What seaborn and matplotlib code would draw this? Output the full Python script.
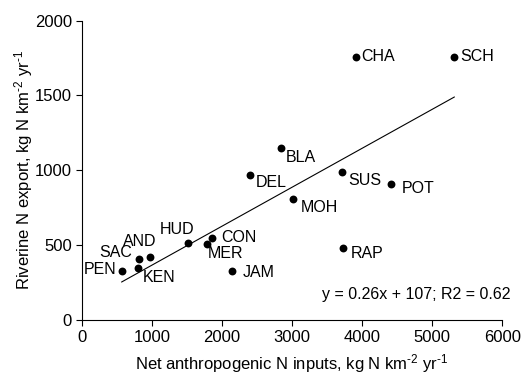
import matplotlib
matplotlib.use("Agg")
import matplotlib.pyplot as plt
import seaborn as sns
import pandas as pd

# river basins: net anthropogenic N inputs vs riverine N export
rivers = ["PEN", "SAC", "AND", "KEN", "HUD", "MER", "CON", "JAM", "DEL", "BLA",
          "MOH", "SUS", "RAP", "POT", "CHA", "SCH"]
n_inputs = [567, 819, 971, 805, 1519, 1781, 1852, 2143, 2400, 2838,
            3019, 3719, 3733, 4414, 3910, 5319]
n_export = [329, 405, 422, 349, 515, 507, 551, 329, 967, 1149,
            807, 989, 482, 907, 1760, 1760]

slope = 0.26
intercept = 107
r2 = 0.62

# label offsets in points (dx, dy, ha)
label_pos = {
    "PEN": (-4, 1, "right"), "SAC": (-5, 5, "right"), "AND": (-7, 11, "center"),
    "KEN": (3, -7, "left"), "HUD": (-8, 10, "center"), "MER": (1, -7, "left"),
    "CON": (7, 0, "left"), "JAM": (8, -1, "left"), "DEL": (4, -5, "left"),
    "BLA": (4, -7, "left"), "MOH": (5, -6, "left"), "SUS": (4, -6, "left"),
    "RAP": (5, -4, "left"), "POT": (8, -3, "left"), "CHA": (4, 0, "left"),
    "SCH": (4, 0, "left"),
}

df = pd.DataFrame({"river": rivers, "x": n_inputs, "y": n_export})

sns.set_style("ticks", {"axes.edgecolor": "black", "xtick.color": "black",
                        "ytick.color": "black", "text.color": "black",
                        "axes.labelcolor": "black"})
plt.rcParams["font.family"] = ["Liberation Sans", "DejaVu Sans"]
plt.rcParams["mathtext.fontset"] = "custom"
plt.rcParams["mathtext.rm"] = "Liberation Sans"
plt.rcParams["mathtext.default"] = "rm"

fig = plt.figure(figsize=(5.28, 3.74), dpi=100)
ax = fig.add_axes([0.155, 0.144, 0.796, 0.801])

sns.scatterplot(data=df, x="x", y="y", color="black", s=32, edgecolor="black",
                linewidth=0, ax=ax, zorder=3)

xs = [min(n_inputs), max(n_inputs)]
line = pd.DataFrame({"x": xs, "y": [slope * v + intercept for v in xs]})
sns.lineplot(data=line, x="x", y="y", color="black", linewidth=0.8, ax=ax)

for r, xv, yv in zip(rivers, n_inputs, n_export):
    dx, dy, ha = label_pos[r]
    ax.annotate(r, (xv, yv), xytext=(dx, dy), textcoords="offset points",
                ha=ha, va="center", fontsize=11.5)

ax.text(1.02, 0.084, f"y = {slope}x + {intercept}; R2 = {r2}", transform=ax.transAxes,
        ha="right", va="center", fontsize=11.5)

ax.set_xlim(0, 6000)
ax.set_ylim(0, 2000)
ax.set_xticks(range(0, 6001, 1000))
ax.set_yticks(range(0, 2001, 500))
ax.tick_params(labelsize=12, length=4, width=0.8, direction="out", pad=3)
for s in ["left", "bottom"]:
    ax.spines[s].set_linewidth(0.8)
sns.despine(ax=ax)

ax.set_xlabel("Net anthropogenic N inputs, kg N km$^{\u2010 2}$ yr$^{\u2010 1}$", fontsize=12, labelpad=5)
ax.set_ylabel("Riverine N export, kg N km$^{\u2010 2}$ yr$^{\u2010 1}$", fontsize=12, labelpad=0)

fig.savefig("out.png", dpi=100)
